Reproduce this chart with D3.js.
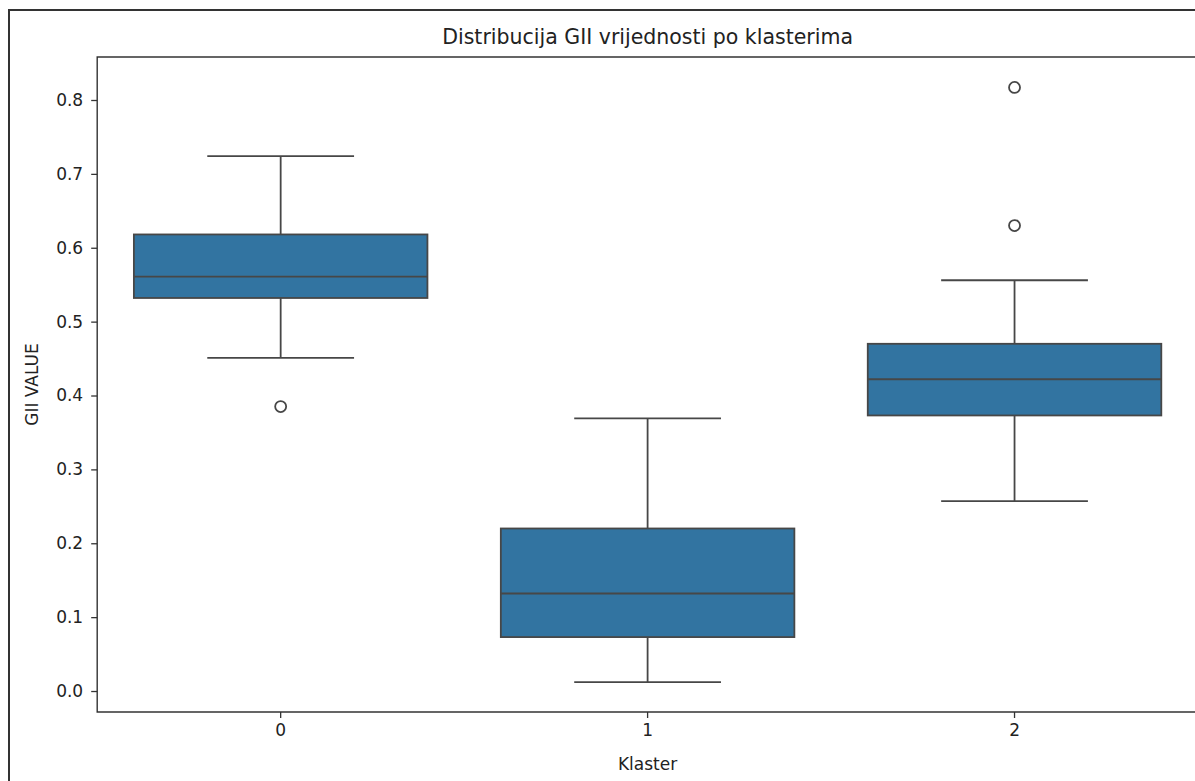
<!DOCTYPE html>
<html>
<head>
<meta charset="utf-8">
<script src="https://cdn.jsdelivr.net/npm/d3@7"></script>
<style>
  html, body { margin: 0; padding: 0; background: #fff; overflow: hidden; }
  svg { display: block; }
  text { font-family: 'DejaVu Sans', sans-serif; fill: #222; }
</style>
</head>
<body>
<svg id="chart" width="1195" height="781"></svg>
<script>
// clusters on the x axis
const clusters = ['0', '1', '2'];
// five-number summary per cluster: lower whisker, Q1, median, Q3, upper whisker
const whiskerLow = [0.451, 0.012, 0.257];
const q1 = [0.532, 0.073, 0.373];
const median = [0.561, 0.132, 0.422];
const q3 = [0.618, 0.220, 0.470];
const whiskerHigh = [0.724, 0.369, 0.556];
// outliers per cluster
const outliers = [[0.385], [], [0.817, 0.630]];
const yTicks = [0, 0.1, 0.2, 0.3, 0.4, 0.5, 0.6, 0.7, 0.8];

const svg = d3.select('#chart');

// notebook output frame
svg.append('rect')
  .attr('x', 9).attr('y', 10)
  .attr('width', 1200).attr('height', 800)
  .attr('fill', 'none')
  .attr('stroke', '#333')
  .attr('stroke-width', 2);

const margin = { top: 57, left: 97.2, bottom: 712, right: 1198 };

const x = d3.scaleBand()
  .domain(clusters)
  .range([margin.left, margin.right])
  .paddingInner(0)
  .paddingOuter(0);
const y = d3.scaleLinear()
  .domain([-0.0284, 0.8582])
  .range([margin.bottom, margin.top]);

const bw = x.bandwidth();
const boxW = bw * 0.8;
const capW = boxW * 0.5;
const lineColor = '#474747';

// y axis
const yAxis = svg.append('g')
  .attr('transform', `translate(${margin.left},0)`)
  .call(d3.axisLeft(y).tickValues(yTicks).tickFormat(d3.format('.1f'))
    .tickSize(6).tickPadding(8));
yAxis.select('.domain').remove();
yAxis.selectAll('line').attr('stroke', '#333').attr('stroke-width', 1.3);
yAxis.selectAll('text').attr('font-size', 17).style('font-family', "'DejaVu Sans', sans-serif").attr('fill', '#222');

// x axis
const xAxis = svg.append('g')
  .attr('transform', `translate(0,${margin.bottom})`)
  .call(d3.axisBottom(x).tickSize(6).tickPadding(6));
xAxis.select('.domain').remove();
xAxis.selectAll('line').attr('stroke', '#333').attr('stroke-width', 1.3);
xAxis.selectAll('text').attr('font-size', 17).style('font-family', "'DejaVu Sans', sans-serif").attr('fill', '#222');

// boxes
clusters.forEach((c, i) => {
  const cx = x(c) + bw / 2;
  const g = svg.append('g');
  // whiskers
  g.append('line')
    .attr('x1', cx).attr('x2', cx)
    .attr('y1', y(whiskerHigh[i])).attr('y2', y(q3[i]))
    .attr('stroke', lineColor).attr('stroke-width', 1.8);
  g.append('line')
    .attr('x1', cx).attr('x2', cx)
    .attr('y1', y(q1[i])).attr('y2', y(whiskerLow[i]))
    .attr('stroke', lineColor).attr('stroke-width', 1.8);
  [whiskerHigh[i], whiskerLow[i]].forEach(v => {
    g.append('line')
      .attr('x1', cx - capW / 2).attr('x2', cx + capW / 2)
      .attr('y1', y(v)).attr('y2', y(v))
      .attr('stroke', lineColor).attr('stroke-width', 1.8);
  });
  // box
  g.append('rect')
    .attr('x', cx - boxW / 2)
    .attr('y', y(q3[i]))
    .attr('width', boxW)
    .attr('height', y(q1[i]) - y(q3[i]))
    .attr('fill', '#3274a1')
    .attr('stroke', lineColor)
    .attr('stroke-width', 1.8);
  // median
  g.append('line')
    .attr('x1', cx - boxW / 2).attr('x2', cx + boxW / 2)
    .attr('y1', y(median[i])).attr('y2', y(median[i]))
    .attr('stroke', lineColor).attr('stroke-width', 1.8);
  // outliers
  g.selectAll('circle')
    .data(outliers[i])
    .enter()
    .append('circle')
    .attr('cx', cx)
    .attr('cy', d => y(d))
    .attr('r', 5.5)
    .attr('fill', 'none')
    .attr('stroke', lineColor)
    .attr('stroke-width', 1.8);
});

// spines (left, top, bottom; right one falls outside the cropped picture)
svg.append('path')
  .attr('d', `M${margin.right + 5},${margin.top}H${margin.left}V${margin.bottom}H${margin.right + 5}`)
  .attr('fill', 'none')
  .attr('stroke', '#333')
  .attr('stroke-width', 1.4);

// title and labels
const midX = (margin.left + margin.right) / 2;
svg.append('text')
  .attr('x', midX).attr('y', 44)
  .attr('text-anchor', 'middle')
  .attr('font-size', 20.5)
  .text('Distribucija GII vrijednosti po klasterima');

svg.append('text')
  .attr('x', midX).attr('y', 770)
  .attr('text-anchor', 'middle')
  .attr('font-size', 17)
  .text('Klaster');

svg.append('text')
  .attr('transform', `translate(38,${(margin.top + margin.bottom) / 2}) rotate(-90)`)
  .attr('text-anchor', 'middle')
  .attr('font-size', 17)
  .text('GII VALUE');
</script>
</body>
</html>
